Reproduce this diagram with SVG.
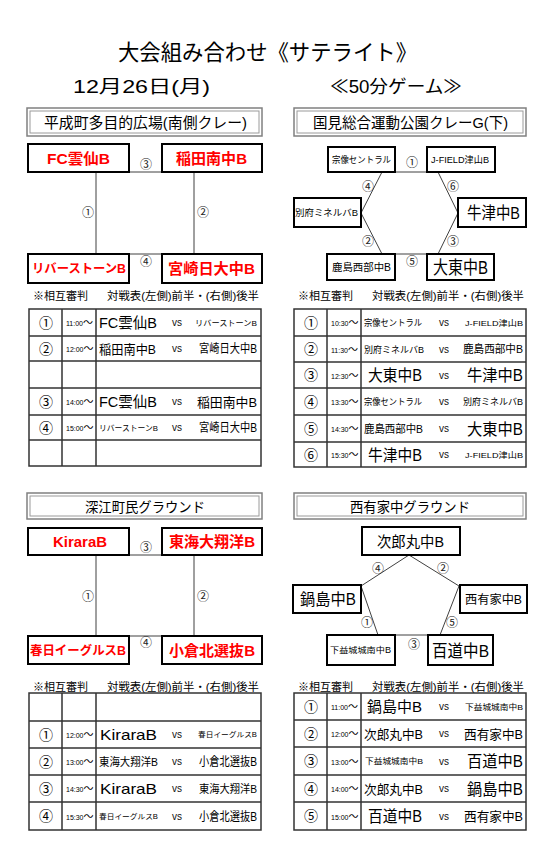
<svg xmlns="http://www.w3.org/2000/svg" width="541" height="853" viewBox="0 0 541 853">
<style>
text{font-family:"Liberation Sans","Noto Sans CJK JP",sans-serif;fill:#000}
.vbo{fill:#fff;stroke:#808080;stroke-width:1.5}
.vbi{fill:none;stroke:#9a9a9a;stroke-width:1}
.tb{fill:#fff;stroke:#000;stroke-width:2}
.red{fill:#f00;font-weight:bold}
.lbl{font-size:12px;fill:#222;text-anchor:middle}
.conn{stroke:#404040;stroke-width:1;fill:none}
.grid{stroke:#333;stroke-width:1.5;fill:none}
.num{font-size:14px;text-anchor:middle}
.tm{font-size:7px}
.tm tspan{font-size:10px}
.vs{font-size:10px;text-anchor:middle;fill:#111}
.hd{font-size:11px}
</style>
<rect width="541" height="853" fill="#fff"/>
<g id="title">
<text x="118" y="60" font-size="22" textLength="299" lengthAdjust="spacingAndGlyphs">大会組み合わせ《サテライト》</text>
<text x="73" y="93" font-size="18" textLength="137" lengthAdjust="spacingAndGlyphs">12月26日(月)</text>
<text x="330" y="93" font-size="18" textLength="132" lengthAdjust="spacingAndGlyphs">≪50分ゲーム≫</text>
</g>
<g id="connectors">
<line class="conn" x1="96" y1="172" x2="96" y2="254"/>
<line class="conn" x1="194" y1="172" x2="194" y2="254"/>
<line class="conn" x1="129" y1="172" x2="162" y2="172"/>
<line class="conn" x1="129" y1="254" x2="162" y2="254"/>
<polygon class="conn" points="382,172 438,172 458,213 438,254 382,254 361,213"/>
<line class="conn" x1="96" y1="555" x2="96" y2="636"/>
<line class="conn" x1="194" y1="555" x2="194" y2="636"/>
<line class="conn" x1="129" y1="555" x2="162" y2="555"/>
<line class="conn" x1="129" y1="636" x2="162" y2="636"/>
<polygon class="conn" points="409,555 459,586 440,635 378,635 361,586"/>
</g>
<g id="labels">
<text class="lbl" x="146" y="169">③</text>
<text class="lbl" x="146" y="266">④</text>
<text class="lbl" x="88" y="217">①</text>
<text class="lbl" x="203" y="217">②</text>
<text class="lbl" x="412" y="167">①</text>
<text class="lbl" x="368" y="191">④</text>
<text class="lbl" x="453" y="191">⑥</text>
<text class="lbl" x="368" y="246">②</text>
<text class="lbl" x="453" y="246">③</text>
<text class="lbl" x="412" y="266">⑤</text>
<text class="lbl" x="146" y="552">③</text>
<text class="lbl" x="146" y="647">④</text>
<text class="lbl" x="88" y="601">①</text>
<text class="lbl" x="203" y="601">②</text>
<text class="lbl" x="378" y="573">④</text>
<text class="lbl" x="443" y="573">②</text>
<text class="lbl" x="367" y="627">①</text>
<text class="lbl" x="452" y="627">⑤</text>
<text class="lbl" x="414" y="649">③</text>
</g>
<g id="venue-heisei">
<rect class="vbo" x="27" y="108" width="235" height="28"/>
<rect class="vbi" x="30" y="111" width="229" height="22"/>
<text x="44" y="127.7" font-size="15" textLength="203" lengthAdjust="spacingAndGlyphs">平成町多目的広場(南側クレー)</text>
</g>
<g id="tl-fc"><rect class="tb" x="28" y="144" width="101" height="28"/><text class="red" x="47" y="163.7" font-size="15" textLength="63" lengthAdjust="spacingAndGlyphs">FC雲仙B</text></g>
<g id="tl-inada"><rect class="tb" x="162" y="144" width="100" height="28"/><text class="red" x="176" y="163.7" font-size="15" textLength="71" lengthAdjust="spacingAndGlyphs">稲田南中B</text></g>
<g id="tl-river"><rect class="tb" x="28" y="254" width="101" height="29"/><text class="red" x="32" y="273" font-size="12.5" textLength="94" lengthAdjust="spacingAndGlyphs">リバーストーンB</text></g>
<g id="tl-miyazaki"><rect class="tb" x="162" y="254" width="100" height="29"/><text class="red" x="168" y="274" font-size="15" textLength="87" lengthAdjust="spacingAndGlyphs">宮崎日大中B</text></g>
<g id="table-tl">
<text class="hd" x="33" y="300" textLength="55" lengthAdjust="spacingAndGlyphs">※相互審判</text>
<text class="hd" x="107" y="300" textLength="152" lengthAdjust="spacingAndGlyphs">対戦表(左側)前半・(右側)後半</text>
<rect class="grid" x="29" y="309" width="232" height="157"/>
<path class="grid" d="M29 336H261M29 361H261M29 388H261M29 415H261M29 440H261M62 309V466M96 309V466"/>
<text class="num" x="46" y="327.8">①</text><text class="tm" x="66" y="326">11:00<tspan>～</tspan></text>
<text x="99" y="328" font-size="15" textLength="58" lengthAdjust="spacingAndGlyphs">FC雲仙B</text><text class="vs" x="177" y="326">vs</text>
<text x="195" y="325.5" font-size="8" textLength="62" lengthAdjust="spacingAndGlyphs">リバーストーンB</text>
<text class="num" x="46" y="353.8">②</text><text class="tm" x="66" y="352">12:00<tspan>～</tspan></text>
<text x="99" y="353.5" font-size="13" textLength="57" lengthAdjust="spacingAndGlyphs">稲田南中B</text><text class="vs" x="177" y="352">vs</text>
<text x="199" y="353" font-size="12" textLength="58" lengthAdjust="spacingAndGlyphs">宮崎日大中B</text>
<text class="num" x="46" y="406.8">③</text><text class="tm" x="66" y="405">14:00<tspan>～</tspan></text>
<text x="99" y="407" font-size="15" textLength="58" lengthAdjust="spacingAndGlyphs">FC雲仙B</text><text class="vs" x="177" y="405">vs</text>
<text x="197" y="406.5" font-size="13" textLength="60" lengthAdjust="spacingAndGlyphs">稲田南中B</text>
<text class="num" x="46" y="432.8">④</text><text class="tm" x="66" y="431">15:00<tspan>～</tspan></text>
<text x="99" y="430.5" font-size="8" textLength="59" lengthAdjust="spacingAndGlyphs">リバーストーンB</text><text class="vs" x="177" y="431">vs</text>
<text x="199" y="432" font-size="12" textLength="58" lengthAdjust="spacingAndGlyphs">宮崎日大中B</text>
</g>
<g id="venue-kunimi">
<rect class="vbo" x="294" y="108" width="232" height="28"/>
<rect class="vbi" x="297" y="111" width="226" height="22"/>
<text x="313" y="127.7" font-size="15" textLength="195" lengthAdjust="spacingAndGlyphs">国見総合運動公園クレーG(下)</text>
</g>
<g id="tr-munakata"><rect class="tb" x="328" y="147" width="67" height="25"/><text x="332" y="163" font-size="9" textLength="59" lengthAdjust="spacingAndGlyphs">宗像セントラル</text></g>
<g id="tr-jfield"><rect class="tb" x="427" y="147" width="68" height="25"/><text x="431" y="163" font-size="9" textLength="58" lengthAdjust="spacingAndGlyphs">J-FIELD津山B</text></g>
<g id="tr-beppu"><rect class="tb" x="294" y="198" width="67" height="29"/><text x="295" y="216" font-size="9" textLength="63" lengthAdjust="spacingAndGlyphs">別府ミネルバB</text></g>
<g id="tr-ushizu"><rect class="tb" x="458" y="198" width="68" height="29"/><text x="467" y="219" font-size="17" textLength="53" lengthAdjust="spacingAndGlyphs">牛津中B</text></g>
<g id="tr-kashima"><rect class="tb" x="327" y="254" width="68" height="26"/><text x="332" y="271" font-size="10.5" textLength="59" lengthAdjust="spacingAndGlyphs">鹿島西部中B</text></g>
<g id="tr-daito"><rect class="tb" x="427" y="254" width="67" height="26"/><text x="433" y="274" font-size="18" textLength="55" lengthAdjust="spacingAndGlyphs">大東中B</text></g>
<g id="table-tr">
<text class="hd" x="298" y="300" textLength="55" lengthAdjust="spacingAndGlyphs">※相互審判</text>
<text class="hd" x="372" y="300" textLength="152" lengthAdjust="spacingAndGlyphs">対戦表(左側)前半・(右側)後半</text>
<rect class="grid" x="294" y="309" width="232" height="158"/>
<path class="grid" d="M294 336H526M294 362H526M294 388H526M294 415H526M294 442H526M327 309V467M361 309V467"/>
<text class="num" x="311" y="327.8">①</text><text class="tm" x="331" y="326">10:30<tspan>～</tspan></text>
<text x="364" y="326" font-size="9" textLength="58" lengthAdjust="spacingAndGlyphs">宗像セントラル</text><text class="vs" x="444" y="326">vs</text>
<text x="465" y="325.5" font-size="8" textLength="58" lengthAdjust="spacingAndGlyphs">J-FIELD津山B</text>
<text class="num" x="311" y="354.3">②</text><text class="tm" x="331" y="352.5">11:30<tspan>～</tspan></text>
<text x="364" y="352.5" font-size="9" textLength="60" lengthAdjust="spacingAndGlyphs">別府ミネルバB</text><text class="vs" x="444" y="352.5">vs</text>
<text x="463" y="353" font-size="11" textLength="60" lengthAdjust="spacingAndGlyphs">鹿島西部中B</text>
<text class="num" x="311" y="380.3">③</text><text class="tm" x="331" y="378.5">12:30<tspan>～</tspan></text>
<text x="368" y="381" font-size="16" textLength="54" lengthAdjust="spacingAndGlyphs">大東中B</text><text class="vs" x="444" y="378.5">vs</text>
<text x="467" y="381" font-size="16" textLength="56" lengthAdjust="spacingAndGlyphs">牛津中B</text>
<text class="num" x="311" y="406.8">④</text><text class="tm" x="331" y="405">13:30<tspan>～</tspan></text>
<text x="364" y="405" font-size="9" textLength="58" lengthAdjust="spacingAndGlyphs">宗像セントラル</text><text class="vs" x="444" y="405">vs</text>
<text x="463" y="405" font-size="9" textLength="60" lengthAdjust="spacingAndGlyphs">別府ミネルバB</text>
<text class="num" x="311" y="433.8">⑤</text><text class="tm" x="331" y="432">14:30<tspan>～</tspan></text>
<text x="364" y="432.5" font-size="11" textLength="59" lengthAdjust="spacingAndGlyphs">鹿島西部中B</text><text class="vs" x="444" y="432">vs</text>
<text x="467" y="434.5" font-size="16" textLength="56" lengthAdjust="spacingAndGlyphs">大東中B</text>
<text class="num" x="311" y="459.8">⑥</text><text class="tm" x="331" y="458">15:30<tspan>～</tspan></text>
<text x="368" y="460.5" font-size="16" textLength="54" lengthAdjust="spacingAndGlyphs">牛津中B</text><text class="vs" x="444" y="458">vs</text>
<text x="465" y="457.5" font-size="8" textLength="58" lengthAdjust="spacingAndGlyphs">J-FIELD津山B</text>
</g>
<g id="venue-fukae">
<rect class="vbo" x="27" y="493" width="235" height="26"/>
<rect class="vbi" x="30" y="496" width="229" height="20"/>
<text x="85" y="511.7" font-size="14" textLength="120" lengthAdjust="spacingAndGlyphs">深江町民グラウンド</text>
</g>
<g id="bl-kirara"><rect class="tb" x="28" y="528" width="101" height="27"/><text class="red" x="53" y="547" font-size="14" textLength="54" lengthAdjust="spacingAndGlyphs">KiraraB</text></g>
<g id="bl-tokai"><rect class="tb" x="162" y="528" width="100" height="27"/><text class="red" x="169" y="547" font-size="15" textLength="86" lengthAdjust="spacingAndGlyphs">東海大翔洋B</text></g>
<g id="bl-kasuga"><rect class="tb" x="28" y="636" width="101" height="28"/><text class="red" x="30" y="655" font-size="12.5" textLength="96" lengthAdjust="spacingAndGlyphs">春日イーグルスB</text></g>
<g id="bl-kokura"><rect class="tb" x="162" y="636" width="100" height="28"/><text class="red" x="169" y="655.5" font-size="15" textLength="86" lengthAdjust="spacingAndGlyphs">小倉北選抜B</text></g>
<g id="table-bl">
<text class="hd" x="33" y="691" textLength="55" lengthAdjust="spacingAndGlyphs">※相互審判</text>
<text class="hd" x="107" y="691" textLength="152" lengthAdjust="spacingAndGlyphs">対戦表(左側)前半・(右側)後半</text>
<rect class="grid" x="29" y="693" width="232" height="137"/>
<path class="grid" d="M29 721H261M29 748H261M29 775H261M29 802H261M62 693V830M96 693V830"/>
<text class="num" x="46" y="739.8">①</text><text class="tm" x="66" y="738">12:00<tspan>～</tspan></text>
<text x="100" y="740" font-size="15" textLength="57" lengthAdjust="spacingAndGlyphs">KiraraB</text><text class="vs" x="177" y="738">vs</text>
<text x="198" y="737" font-size="7" textLength="59" lengthAdjust="spacingAndGlyphs">春日イーグルスB</text>
<text class="num" x="46" y="766.8">②</text><text class="tm" x="66" y="765">13:00<tspan>～</tspan></text>
<text x="99" y="765.5" font-size="11" textLength="59" lengthAdjust="spacingAndGlyphs">東海大翔洋B</text><text class="vs" x="177" y="765">vs</text>
<text x="199" y="766" font-size="12" textLength="58" lengthAdjust="spacingAndGlyphs">小倉北選抜B</text>
<text class="num" x="46" y="793.8">③</text><text class="tm" x="66" y="792">14:30<tspan>～</tspan></text>
<text x="100" y="794" font-size="15" textLength="57" lengthAdjust="spacingAndGlyphs">KiraraB</text><text class="vs" x="177" y="792">vs</text>
<text x="199" y="792.5" font-size="11" textLength="58" lengthAdjust="spacingAndGlyphs">東海大翔洋B</text>
<text class="num" x="46" y="821.3">④</text><text class="tm" x="66" y="819.5">15:30<tspan>～</tspan></text>
<text x="99" y="818.5" font-size="7" textLength="59" lengthAdjust="spacingAndGlyphs">春日イーグルスB</text><text class="vs" x="177" y="819.5">vs</text>
<text x="199" y="820.5" font-size="12" textLength="58" lengthAdjust="spacingAndGlyphs">小倉北選抜B</text>
</g>
<g id="venue-nishiarie">
<rect class="vbo" x="294" y="493" width="232" height="26"/>
<rect class="vbi" x="297" y="496" width="226" height="20"/>
<text x="350" y="511.7" font-size="14" textLength="120" lengthAdjust="spacingAndGlyphs">西有家中グラウンド</text>
</g>
<g id="br-jiromaru"><rect class="tb" x="362" y="527" width="98" height="28"/><text x="377" y="546.7" font-size="15" textLength="67" lengthAdjust="spacingAndGlyphs">次郎丸中B</text></g>
<g id="br-nabeshima"><rect class="tb" x="293" y="585" width="68" height="28"/><text x="300" y="605" font-size="16" textLength="56" lengthAdjust="spacingAndGlyphs">鍋島中B</text></g>
<g id="br-nishiarie"><rect class="tb" x="460" y="585" width="67" height="28"/><text x="465" y="603.5" font-size="12" textLength="57" lengthAdjust="spacingAndGlyphs">西有家中B</text></g>
<g id="br-shimomashiki"><rect class="tb" x="327" y="635" width="68" height="30"/><text x="330" y="653" font-size="8.5" textLength="61" lengthAdjust="spacingAndGlyphs">下益城城南中B</text></g>
<g id="br-momochi"><rect class="tb" x="428" y="635" width="65" height="30"/><text x="432" y="656.5" font-size="17" textLength="57" lengthAdjust="spacingAndGlyphs">百道中B</text></g>
<g id="table-br">
<text class="hd" x="298" y="691" textLength="55" lengthAdjust="spacingAndGlyphs">※相互審判</text>
<text class="hd" x="372" y="691" textLength="152" lengthAdjust="spacingAndGlyphs">対戦表(左側)前半・(右側)後半</text>
<rect class="grid" x="294" y="693" width="232" height="137"/>
<path class="grid" d="M294 720H526M294 747H526M294 775H526M294 802H526M327 693V830M361 693V830"/>
<text class="num" x="311" y="711.8">①</text><text class="tm" x="331" y="710">11:00<tspan>～</tspan></text>
<text x="367" y="712" font-size="15" textLength="55" lengthAdjust="spacingAndGlyphs">鍋島中B</text><text class="vs" x="444" y="710">vs</text>
<text x="465" y="709.5" font-size="8" textLength="58" lengthAdjust="spacingAndGlyphs">下益城城南中B</text>
<text class="num" x="311" y="738.8">②</text><text class="tm" x="331" y="737">12:00<tspan>～</tspan></text>
<text x="364" y="738.5" font-size="13" textLength="59" lengthAdjust="spacingAndGlyphs">次郎丸中B</text><text class="vs" x="444" y="737">vs</text>
<text x="464" y="738.5" font-size="13" textLength="59" lengthAdjust="spacingAndGlyphs">西有家中B</text>
<text class="num" x="311" y="766.3">③</text><text class="tm" x="331" y="764.5">13:00<tspan>～</tspan></text>
<text x="365" y="764" font-size="8" textLength="58" lengthAdjust="spacingAndGlyphs">下益城城南中B</text><text class="vs" x="444" y="764.5">vs</text>
<text x="467" y="767" font-size="16" textLength="56" lengthAdjust="spacingAndGlyphs">百道中B</text>
<text class="num" x="311" y="793.8">④</text><text class="tm" x="331" y="792">14:00<tspan>～</tspan></text>
<text x="364" y="793.5" font-size="13" textLength="59" lengthAdjust="spacingAndGlyphs">次郎丸中B</text><text class="vs" x="444" y="792">vs</text>
<text x="467" y="794.5" font-size="16" textLength="56" lengthAdjust="spacingAndGlyphs">鍋島中B</text>
<text class="num" x="311" y="821.3">⑤</text><text class="tm" x="331" y="819.5">15:00<tspan>～</tspan></text>
<text x="368" y="822" font-size="16" textLength="54" lengthAdjust="spacingAndGlyphs">百道中B</text><text class="vs" x="444" y="819.5">vs</text>
<text x="464" y="821" font-size="13" textLength="59" lengthAdjust="spacingAndGlyphs">西有家中B</text>
</g>
</svg>
